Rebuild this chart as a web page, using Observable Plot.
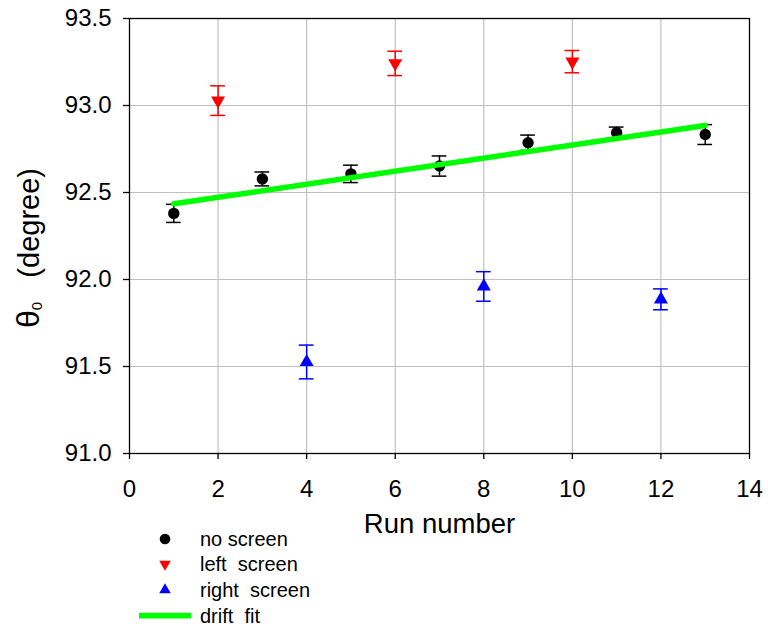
<!DOCTYPE html>
<html><head><meta charset="utf-8">
<script src="https://cdn.jsdelivr.net/npm/d3@7"></script>
<script src="https://cdn.jsdelivr.net/npm/@observablehq/plot@0.6"></script>
<style>
body{margin:0;background:#fff;font-family:"Liberation Sans",Arial,sans-serif;}
#wrap{position:relative;width:768px;height:627px;overflow:hidden;}
#chart svg{display:block;overflow:visible;}
#legend{position:absolute;left:0;top:525.5px;width:768px;}
.row{position:relative;height:25.7px;font-size:20px;white-space:pre;color:#000;}
.row svg{position:absolute;left:134px;top:0;}
.row span{position:absolute;left:200px;top:4px;line-height:18px;}
</style></head>
<body><div id="wrap"><div id="chart"></div><div id="legend"></div></div>
<script>
// ---- data ----
const noScreenRun   = [1, 3, 5, 7, 9, 11, 13];
const noScreenTheta = [92.38, 92.578, 92.607, 92.652, 92.786, 92.844, 92.833];
const noScreenErr   = [0.052, 0.04, 0.05, 0.058, 0.044, 0.032, 0.057];

const leftRun   = [2, 6, 10];
const leftTheta = [93.028, 93.242, 93.252];
const leftErr   = [0.085, 0.07, 0.064];

const rightRun   = [4, 8, 12];
const rightTheta = [91.526, 91.96, 91.886];
const rightErr   = [0.097, 0.085, 0.06];

const driftRun   = [1, 13];
const driftTheta = [92.435, 92.885];

const xTicks = [0, 2, 4, 6, 8, 10, 12, 14];
const yTicks = [91.0, 91.5, 92.0, 92.5, 93.0, 93.5];

const legendLabels = ["no screen", "left  screen", "right  screen", "drift  fit"];
const xLabel = "Run number";
const yLabel = "θ0  (degree)";

// ---- build tables ----
const toRows = (xs, ys, es) => xs.map((x, i) => ({x, y: ys[i], e: es ? es[i] : 0}));
const noScreen = toRows(noScreenRun, noScreenTheta, noScreenErr);
const left = toRows(leftRun, leftTheta, leftErr);
const right = toRows(rightRun, rightTheta, rightErr);
const drift = toRows(driftRun, driftTheta);

const cap = 0.166;
function errMarks(data, color) {
  return [
    Plot.ruleX(data, {x: "x", y1: d => d.y - d.e, y2: d => d.y + d.e, stroke: color, strokeWidth: 1.5}),
    Plot.ruleY(data, {y: d => d.y + d.e, x1: d => d.x - cap, x2: d => d.x + cap, stroke: color, strokeWidth: 1.5}),
    Plot.ruleY(data, {y: d => d.y - d.e, x1: d => d.x - cap, x2: d => d.x + cap, stroke: color, strokeWidth: 1.5})
  ];
}

const chart = Plot.plot({
  width: 768, height: 540,
  marginLeft: 129, marginRight: 19, marginTop: 18, marginBottom: 87,
  x: {domain: [0, 14]},
  y: {domain: [91, 93.5]},
  style: {fontFamily: "'Liberation Sans', Arial, sans-serif", fontSize: "24px", background: "white", color: "black"},
  marks: [
    Plot.gridX(xTicks.slice(1, -1), {stroke: "#c0c0c0", strokeOpacity: 1, strokeWidth: 1.2}),
    Plot.gridY(yTicks.slice(1, -1), {stroke: "#c0c0c0", strokeOpacity: 1, strokeWidth: 1.2}),
    Plot.frame({stroke: "black", strokeWidth: 1.3}),
    Plot.axisX(xTicks, {tickSize: 6, tickPadding: 20, label: null, tickFormat: d => String(d), strokeWidth: 1.3}),
    Plot.axisY(yTicks, {tickSize: 6, tickPadding: 12, label: null, tickFormat: d => d.toFixed(1), strokeWidth: 1.3}),
    ...errMarks(noScreen, "black"),
    ...errMarks(left, "#ff0000"),
    ...errMarks(right, "#0000ff"),
    Plot.dot(noScreen, {x: "x", y: "y", r: 5.7, fill: "black", stroke: "none"}),
    Plot.dot(left, {x: "x", y: "y", r: 5.2, symbol: "triangle", rotate: 180, fill: "#ff0000", stroke: "none"}),
    Plot.dot(right, {x: "x", y: "y", r: 5.2, symbol: "triangle", fill: "#0000ff", stroke: "none"}),
    Plot.line(drift, {x: "x", y: "y", stroke: "#00ff00", strokeWidth: 5.5}),
    Plot.text([xLabel], {frameAnchor: "bottom", dy: 60, lineAnchor: "top", textAnchor: "middle", fontSize: 27.5}),
    Plot.text([yLabel], {frameAnchor: "left", rotate: -90, dx: -100, dy: 12, textAnchor: "middle", lineAnchor: "middle", fontSize: 29})
  ]
});
document.getElementById("chart").appendChild(chart);

// subscript for theta
d3.select(chart).selectAll("text").filter(function () { return this.textContent === yLabel; }).each(function () {
  const t = d3.select(this);
  t.text(null);
  t.append("tspan").attr("font-size", 32).text("θ");
  t.append("tspan").attr("font-size", 15).attr("dy", 3).text("0");
  t.append("tspan").attr("dy", -3).text("   (degree)").style("white-space", "pre");
  t.style("white-space", "pre");
});

// ---- legend ----
const legendColors = ["black", "#ff0000", "#0000ff", "#00ff00"];
const legendKinds = ["circle", "down", "up", "line"];
const leg = d3.select("#legend");
legendLabels.forEach((lab, i) => {
  const row = leg.append("div").attr("class", "row");
  const s = row.append("svg").attr("width", 62).attr("height", 26);
  const k = legendKinds[i];
  if (k === "line") {
    s.append("line").attr("x1", 5).attr("x2", 57).attr("y1", 12.7).attr("y2", 12.7)
      .attr("stroke", legendColors[i]).attr("stroke-width", 5.7);
  } else {
    const sym = k === "circle" ? d3.symbolCircle : d3.symbolTriangle;
    const size = k === "circle" ? Math.PI * 5.3 * 5.3 : Math.PI * 4.3 * 4.3;
    s.append("path").attr("d", d3.symbol(sym, size)())
      .attr("transform", `translate(31,13) rotate(${k === "down" ? 180 : 0})`)
      .attr("fill", legendColors[i]);
  }
  row.append("span").text(lab);
});
</script></body></html>
